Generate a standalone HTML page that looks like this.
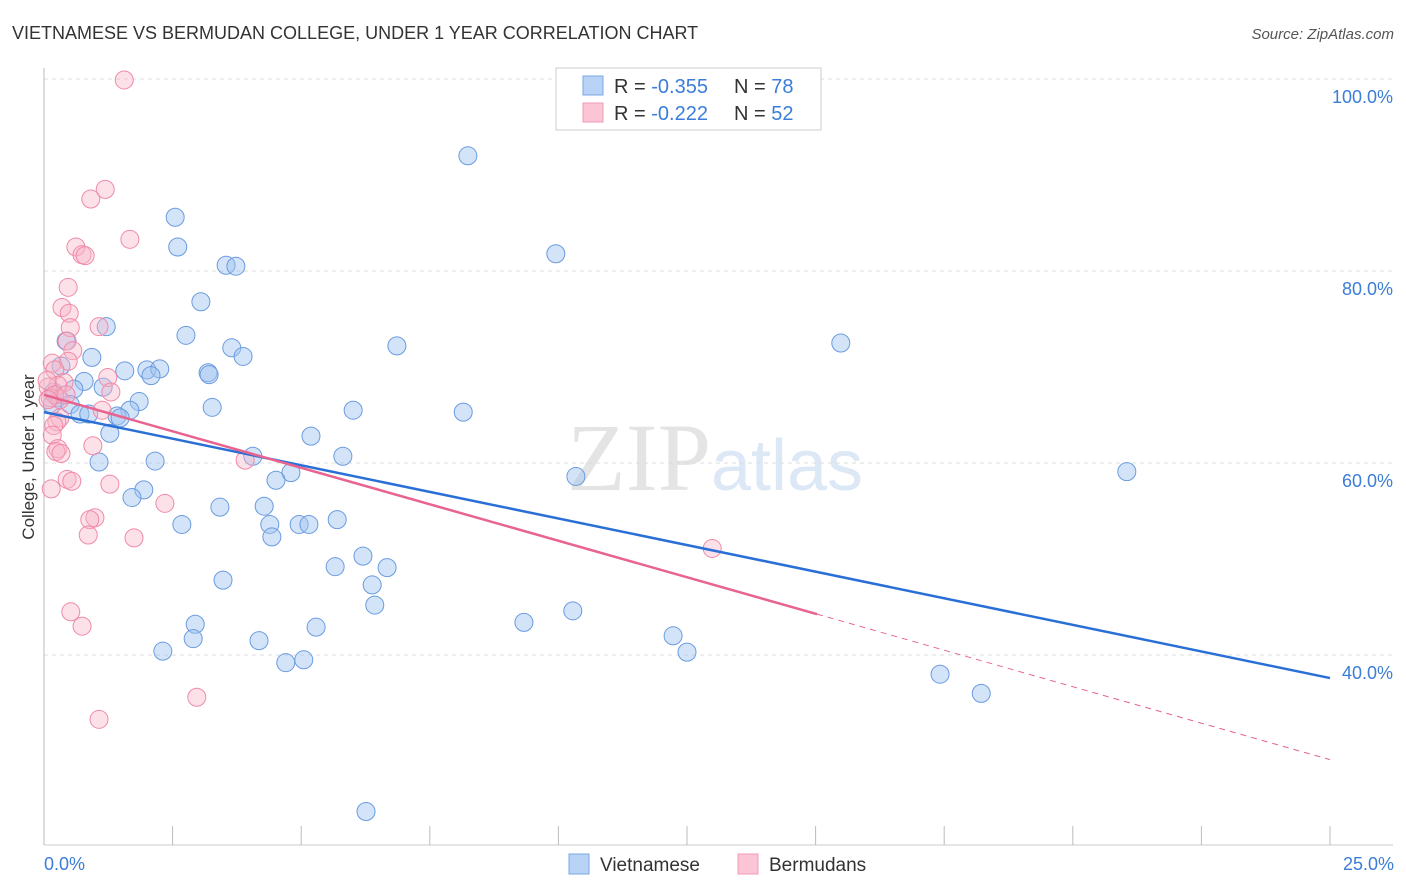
<!DOCTYPE html>
<html><head><meta charset="utf-8"><style>
body{margin:0;background:#fff;font-family:"Liberation Sans",sans-serif;}
svg{display:block}
</style></head><body>
<svg id="chart" width="1406" height="892" xmlns="http://www.w3.org/2000/svg">
<text x="12" y="39" font-size="18" fill="#333">VIETNAMESE VS BERMUDAN COLLEGE, UNDER 1 YEAR CORRELATION CHART</text>
<text x="1394" y="39" font-size="15" fill="#555" text-anchor="end" font-style="italic">Source: ZipAtlas.com</text>
<text x="715" y="490" font-size="96" text-anchor="middle" fill="#e4e4e4" font-family="Liberation Serif,serif">ZIP<tspan fill="#dde8f6" font-family="Liberation Sans,sans-serif" font-size="72">atlas</tspan></text>
<g id="grid"></g><g id="axes"></g><g id="pts"></g><g id="lines"></g>
<text transform="translate(34,457) rotate(-90)" font-size="17" fill="#333" text-anchor="middle">College, Under 1 year</text>
<text x="44" y="870" font-size="18" fill="#3b7dd8">0.0%</text>
<text x="1394" y="870" font-size="18" fill="#3b7dd8" text-anchor="end">25.0%</text>
<g>
<rect x="556" y="68" width="265" height="62" fill="#fff" stroke="#ccc"/>
<rect x="583" y="76" width="20" height="19" fill="#b8d3f5" stroke="#7aa8e6"/>
<rect x="583" y="103" width="20" height="19" fill="#fcc5d5" stroke="#f09ab4"/>
<text x="614" y="93" font-size="20" fill="#333">R = <tspan fill="#3b7dd8">-0.355</tspan></text>
<text x="734" y="93" font-size="20" fill="#333">N = <tspan fill="#3b7dd8">78</tspan></text>
<text x="614" y="120" font-size="20" fill="#333">R = <tspan fill="#3b7dd8"> -0.222</tspan></text>
<text x="734" y="120" font-size="20" fill="#333">N = <tspan fill="#3b7dd8">52</tspan></text>
</g>
<g><rect x="569" y="854" width="20" height="20" fill="#b8d3f5" stroke="#7aa8e6"/><text x="600" y="871" font-size="19" fill="#333">Vietnamese</text></g>
<g><rect x="738" y="854" width="20" height="20" fill="#fcc5d5" stroke="#f09ab4"/><text x="769" y="871" font-size="19" fill="#333">Bermudans</text></g>
</svg>
<script>
const yTicks=[100,80,60,40];
const xTicks=[0,2.5,5,7.5,10,12.5,15,17.5,20,22.5,25];
const blueX=[8.24,2.55,2.60,9.95,3.54,3.73,3.05,1.21,2.76,15.49,6.86,0.43,3.65,3.87,0.93,0.33,1.57,2.00,2.25,2.08,3.19,3.21,0.78,0.58,1.15,0.19,0.27,1.85,0.51,3.27,1.67,6.01,8.15,0.70,0.87,1.42,1.48,1.28,5.19,4.06,5.81,1.07,2.16,21.05,10.34,4.80,4.51,1.94,1.71,4.28,3.42,2.68,4.39,4.96,5.15,5.70,4.43,6.20,5.66,6.67,3.48,6.38,6.43,10.28,9.33,2.94,5.29,2.90,4.18,12.23,2.31,12.50,5.05,4.70,17.42,18.22,6.26,0.16];
const blueY=[92.0,85.6,82.5,81.8,80.6,80.5,76.8,74.2,73.3,72.5,72.2,72.7,72.0,71.1,71.0,70.1,69.6,69.7,69.8,69.1,69.4,69.2,68.5,67.7,67.9,67.4,66.8,66.4,66.1,65.8,65.5,65.5,65.3,65.1,65.1,64.9,64.7,63.1,62.8,60.7,60.7,60.1,60.2,59.1,58.6,59.0,58.2,57.2,56.4,55.5,55.4,53.6,53.6,53.6,53.6,54.1,52.3,50.3,49.2,49.1,47.8,47.3,45.2,44.6,43.4,43.2,42.9,41.7,41.5,42.0,40.4,40.3,39.5,39.2,38.0,36.0,23.7,66.1];
const pinkX=[1.56,1.19,0.91,1.67,0.62,0.74,0.80,0.47,0.35,0.49,0.51,1.07,0.45,0.56,0.47,0.16,0.21,1.24,0.39,0.27,1.30,0.08,0.12,0.31,1.13,0.31,0.25,0.19,0.16,0.95,0.27,0.23,0.33,3.91,0.45,0.54,1.28,0.14,2.35,0.99,0.89,0.86,1.75,12.99,0.52,0.74,2.97,1.07,0.06,0.21,0.43,0.08];
const pinkY=[99.9,88.5,87.5,83.3,82.5,81.7,81.6,78.3,76.2,75.6,74.1,74.2,72.7,71.7,70.6,70.4,69.7,68.9,68.4,68.1,67.4,67.9,66.8,66.6,65.5,64.7,64.3,63.9,62.9,61.8,61.5,61.2,61.0,60.3,58.3,58.1,57.8,57.3,55.8,54.3,54.1,52.5,52.2,51.1,44.5,43.0,35.6,33.3,68.6,67.1,67.1,66.6];
const blueLine=[65.3,37.6];
const pinkLine=[67.1,29.1];
const pinkSolidEnd=15.03;
const NS="http://www.w3.org/2000/svg";
const X=v=>44+v/25*1286;
const Y=v=>79+(100-v)*9.6;
function mk(t,a,p){const e=document.createElementNS(NS,t);for(const k in a)e.setAttribute(k,a[k]);p.appendChild(e);return e;}
const grid=document.getElementById('grid'),axes=document.getElementById('axes'),pts=document.getElementById('pts'),lines=document.getElementById('lines');
yTicks.forEach(t=>{
 const l=mk('line',{x1:44,x2:1393,y1:Y(t),y2:Y(t),stroke:'#ddd','stroke-dasharray':'4,4'},grid);
 
 
 const tx=mk('text',{x:1393,y:Y(t)+24,'font-size':18,fill:'#3b7dd8','text-anchor':'end'},grid);
 tx.textContent=t.toFixed(1)+'%';
 
 
});
const ya=mk('line',{x1:44,x2:44,y1:68,y2:845,stroke:'#bbb'},axes);


const xa=mk('line',{x1:44,x2:1393,y1:845,y2:845,stroke:'#ccc'},axes);


xTicks.forEach(t=>{
 const l=mk('line',{x1:X(t),x2:X(t),y1:826,y2:845,stroke:'#bbb'},axes);
 
 
});
blueX.forEach((x,i)=>{
 const c=mk('circle',{cx:X(x),cy:Y(blueY[i]),r:9,fill:'rgba(160,196,240,0.45)',stroke:'#6a9be0','stroke-width':1},pts);
 
 
});
pinkX.forEach((x,i)=>{
 const c=mk('circle',{cx:X(x),cy:Y(pinkY[i]),r:9,fill:'rgba(248,180,200,0.4)',stroke:'#f08aa8','stroke-width':1},pts);
 
 
});
const bl=mk('line',{x1:X(0),y1:Y(blueLine[0]),x2:X(25),y2:Y(blueLine[1]),stroke:'#2a6fd6','stroke-width':2.5},lines);


const py=x=>pinkLine[0]+(pinkLine[1]-pinkLine[0])*x/25;
const pl=mk('line',{x1:X(0),y1:Y(py(0)),x2:X(pinkSolidEnd),y2:Y(py(pinkSolidEnd)),stroke:'#e8638f','stroke-width':2.5},lines);


const pd=mk('line',{x1:X(pinkSolidEnd),y1:Y(py(pinkSolidEnd)),x2:X(25),y2:Y(py(25)),stroke:'#e8638f','stroke-width':1,'stroke-dasharray':'6,5'},lines);


</script>
</body></html>
